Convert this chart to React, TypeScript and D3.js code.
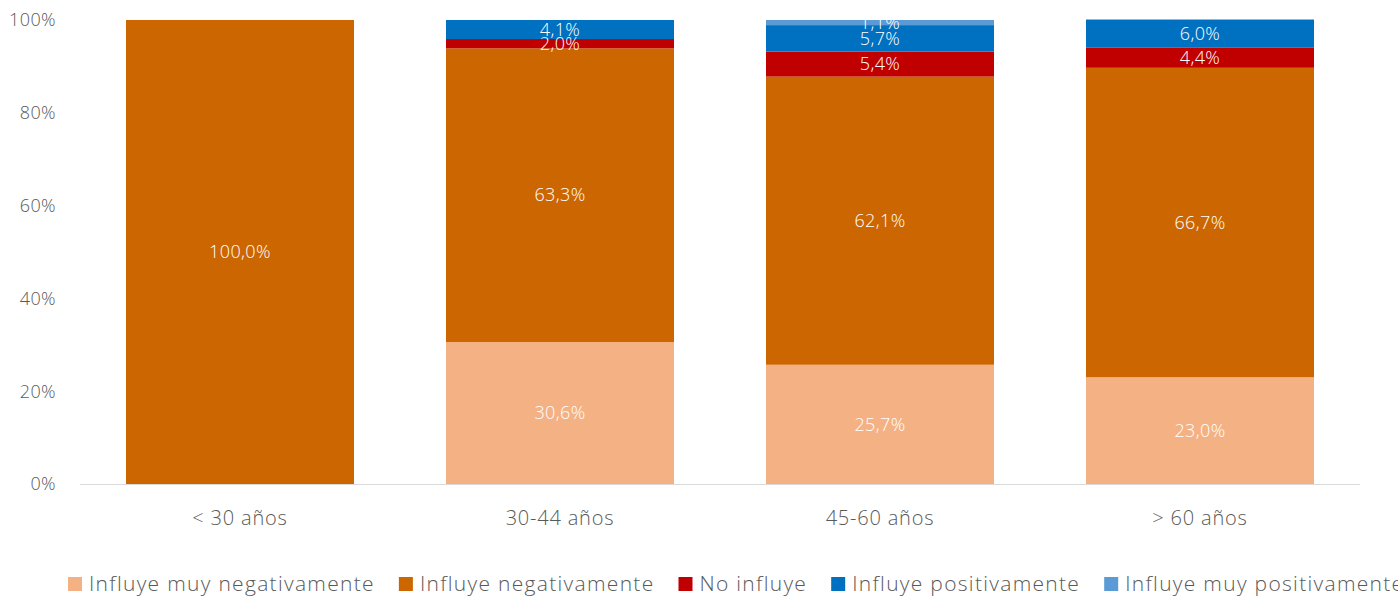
import React, { useEffect, useRef } from "react";
import * as d3 from "d3";

const categories = ["< 30 años", "30-44 años", "45-60 años", "> 60 años"];
const seriesNames = [
  "Influye muy negativamente",
  "Influye negativamente",
  "No influye",
  "Influye positivamente",
  "Influye muy positivamente",
];
const muyNegativamente = [0, 30.6, 25.7, 23.0];
const negativamente = [100.0, 63.3, 62.1, 66.7];
const noInfluye = [0, 2.0, 5.4, 4.4];
const positivamente = [0, 4.1, 5.7, 6.0];
const muyPositivamente = [0, 0, 1.1, 0];
const yTicks = [0, 20, 40, 60, 80, 100];
const colors = ["#F4B183", "#CC6600", "#C00000", "#0070C0", "#5B9BD5"];

const W = 1398;
const H = 597;
const FONT = "'Open Sans', Lato, sans-serif";

export default function App() {
  const ref = useRef<SVGSVGElement>(null);

  useEffect(() => {
    const svg = d3.select(ref.current);
    svg.selectAll("*").remove();

    const series = [muyNegativamente, negativamente, noInfluye, positivamente, muyPositivamente];
    const data = categories.map((c, i) => {
      const o: any = { cat: c };
      seriesNames.forEach((s, j) => (o[s] = series[j][i]));
      return o;
    });
    const stacked = d3.stack().keys(seriesNames)(data);

    const x = d3.scaleBand().domain(categories).range([80, 1360]).paddingInner(0.2875).paddingOuter(0.14375);
    const y = d3.scaleLinear().domain([0, 100]).range([484, 20]);

    svg.append("g")
      .selectAll("text")
      .data(yTicks)
      .join("text")
      .attr("x", 56)
      .attr("y", (d) => y(d))
      .attr("dy", "0.35em")
      .attr("text-anchor", "end")
      .attr("font-family", FONT)
      .attr("font-weight", 300)
      .attr("font-size", 18)
      .attr("letter-spacing", 0.4)
      .attr("fill", "#595959")
      .text((d) => d + "%");

    const g = svg.append("g");
    stacked.forEach((s, j) => {
      g.append("g")
        .attr("fill", colors[j])
        .selectAll("rect")
        .data(s.filter((d) => d[1] - d[0] > 0))
        .join("rect")
        .attr("x", (d: any) => x(d.data.cat)!)
        .attr("width", x.bandwidth())
        .attr("y", (d) => y(d[1]))
        .attr("height", (d) => y(d[0]) - y(d[1]));
    });

    stacked.forEach((s) => {
      g.append("g")
        .selectAll("text")
        .data(s.filter((d) => d[1] - d[0] > 0))
        .join("text")
        .attr("x", (d: any) => x(d.data.cat)! + x.bandwidth() / 2)
        .attr("y", (d) => Math.max(y((d[0] + d[1]) / 2), 23))
        .attr("dy", "0.35em")
        .attr("text-anchor", "middle")
        .attr("font-family", FONT)
        .attr("font-weight", 300)
        .attr("font-size", 18)
        .attr("letter-spacing", 0.4)
        .attr("fill", "#ffffff")
        .text((d) => d3.format(".1f")(d[1] - d[0]).replace(".", ",") + "%");
    });

    svg.append("line")
      .attr("x1", 80)
      .attr("x2", 1360)
      .attr("y1", 484.5)
      .attr("y2", 484.5)
      .attr("stroke", "#D9D9D9")
      .attr("stroke-width", 1);

    svg.append("g")
      .selectAll("text")
      .data(categories)
      .join("text")
      .attr("x", (d) => x(d)! + x.bandwidth() / 2)
      .attr("y", 518)
      .attr("dy", "0.35em")
      .attr("text-anchor", "middle")
      .attr("font-family", FONT)
      .attr("font-weight", 300)
      .attr("font-size", 20)
      .attr("letter-spacing", 0.8)
      .attr("fill", "#595959")
      .text((d) => d);

    const leg = svg.append("g");
    let cx = 68;
    seriesNames.forEach((name, j) => {
      leg.append("rect").attr("x", cx).attr("y", 577).attr("width", 14).attr("height", 14).attr("fill", colors[j]);
      const t = leg.append("text")
        .attr("x", cx + 21)
        .attr("y", 584)
        .attr("dy", "0.35em")
        .attr("font-family", FONT)
        .attr("font-weight", 300)
        .attr("font-size", 21)
        .attr("letter-spacing", 1.3)
        .attr("fill", "#595959")
        .text(name);
      const w = (t.node() as SVGTextElement).getComputedTextLength();
      cx = cx + 21 + w + 24;
    });
  }, []);

  return (
    <svg ref={ref} width={W} height={H} style={{ position: "absolute", left: 0, top: 0, background: "#fff" }} />
  );
}
